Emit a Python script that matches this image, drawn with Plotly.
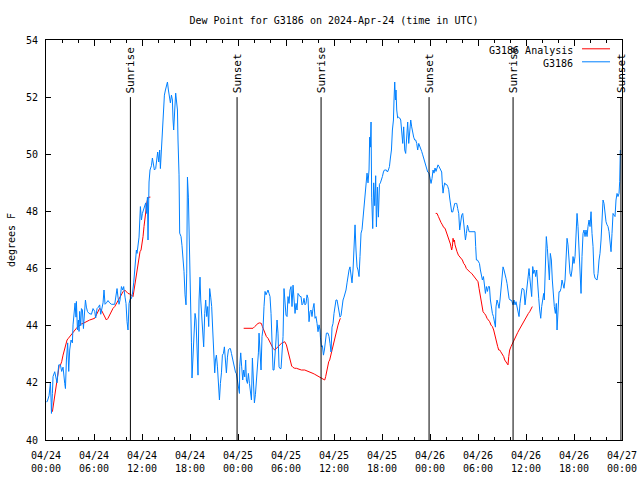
import plotly.graph_objects as go
from datetime import datetime, timedelta

title_text = "Dew Point for G3186 on 2024-Apr-24 (time in UTC)"
y_title = "degrees F"
start = datetime(2024, 4, 24, 0, 0)

# Station observations (hours after 2024-04-24 00:00 UTC, dew point F)
obs_hours = [
    0.05, 0.15, 0.38, 0.55, 0.65, 0.68, 0.8, 0.88, 1.09, 1.21, 1.38, 1.59, 1.8, 1.96, 2.13, 2.34, 2.43, 2.55, 2.71, 2.84,
    2.96, 3.13, 3.3, 3.38, 3.5, 3.63, 3.75, 3.8, 3.93, 4.05, 4.13, 4.21, 4.34, 4.43, 4.55, 4.68, 4.75, 4.93, 5.05, 5.18,
    5.38, 5.68, 5.88, 6.09, 6.21, 6.38, 6.55, 6.71, 6.84, 6.96, 7.13, 7.25, 7.38, 7.55, 7.75, 7.96, 8.18, 8.59, 8.71, 8.88,
    9.0, 9.13, 9.25, 9.43, 9.59, 9.71, 9.88, 10.0, 10.13, 10.25, 10.38, 10.55, 10.68, 10.8, 10.96, 11.09, 11.21, 11.3,
    11.38, 11.5, 11.63, 11.8, 11.93, 12.05, 12.21, 12.34, 12.46, 12.55, 12.68, 12.75, 12.8, 12.88, 13.0, 13.18, 13.3, 13.43,
    13.55, 13.71, 13.84, 13.96, 14.09, 14.21, 14.3, 14.43, 14.55, 14.68, 14.8, 14.93, 15.05, 15.18, 15.3, 15.43, 15.55, 15.68,
    15.8, 15.88, 15.96, 16.09, 16.21, 16.3, 16.43, 16.5, 16.63, 16.71, 16.88, 17.0, 17.13, 17.25, 17.38, 17.5, 17.59, 17.68,
    17.8, 17.88, 18.05, 18.18, 18.25, 18.38, 18.5, 18.63, 18.75, 18.88, 19.0, 19.13, 19.25, 19.34, 19.46, 19.59, 19.71, 19.84,
    19.96, 20.09, 20.21, 20.34, 20.46, 20.59, 20.71, 20.84, 20.96, 21.09, 21.18, 21.3, 21.43, 21.55, 21.68, 21.8, 21.93, 22.05,
    22.18, 22.3, 22.43, 22.55, 22.68, 22.8, 22.93, 23.05, 23.18, 23.3, 23.43, 23.55, 23.68, 23.8, 23.93, 24.05, 24.18,
    24.21, 24.34, 24.46, 24.59, 24.71, 24.84, 24.96, 25.05, 25.18, 25.3, 25.43, 25.55, 25.68, 25.8, 25.93, 26.05, 26.18, 26.3,
    26.43, 26.55, 26.63, 26.75, 26.88, 27.0, 27.13, 27.25, 27.38, 27.5, 27.63, 27.75, 27.88, 28.0, 28.13, 28.25, 28.38, 28.5,
    28.63, 28.75, 28.88, 29.0, 29.13, 29.25, 29.38, 29.5, 29.63, 29.75, 29.88, 30.0, 30.13, 30.25, 30.38, 30.5, 30.63, 30.75,
    30.88, 31.0, 31.13, 31.25, 31.38, 31.5, 31.63, 31.75, 31.88, 32.0, 32.13, 32.25, 32.38, 32.5, 32.63, 32.75, 32.88, 33.0,
    33.13, 33.25, 33.38, 33.5, 33.63, 33.75, 33.88, 34.0, 34.13, 34.25,
    34.3, 34.43, 34.55, 34.68, 34.8, 34.93, 35.05, 35.25, 35.38, 35.5, 35.63, 35.75, 35.88, 36.0, 36.13, 36.25, 36.38, 36.5,
    36.63, 36.75, 36.88, 37.0, 37.13, 37.25, 37.38, 37.5, 37.63, 37.75, 37.88, 38.0, 38.13, 38.25, 38.38, 38.5, 38.63, 38.75,
    38.88, 39.0, 39.13, 39.25, 39.38, 39.5, 39.63, 39.75, 39.88, 40.0, 40.13, 40.25, 40.38, 40.46, 40.55, 40.63, 40.71, 40.84,
    40.96, 41.09, 41.21, 41.3, 41.43, 41.55, 41.68, 41.8, 41.93, 42.05, 42.18, 42.3, 42.55, 42.68, 42.8, 42.93, 43.05, 43.18,
    43.3, 43.43, 43.5, 43.59, 43.68, 43.75, 43.84, 43.96, 44.09, 44.21, 44.34, 44.46, 44.59, 44.71, 44.84, 44.96, 45.09, 45.21,
    45.34, 45.46, 45.59, 45.71, 45.84, 45.96, 46.09, 46.21, 46.34, 46.46, 46.59, 46.71, 46.84, 46.96, 47.09, 47.21, 47.34, 47.46,
    47.59, 47.71, 47.88, 48.0, 48.13, 48.25, 48.38, 48.5, 48.63, 48.75, 48.88, 49.0, 49.13,
    49.46, 49.55, 49.63, 49.71, 49.84, 49.96, 50.09, 50.21, 50.34, 50.46, 50.59, 50.71, 50.84, 50.96, 51.09, 51.21, 51.34, 51.46,
    51.59, 51.71, 51.84, 51.96, 52.09, 52.21, 52.34, 52.43, 52.55, 52.68, 52.8, 52.88, 53.0, 53.38, 53.63, 53.71, 53.8, 53.93,
    54.05, 54.18, 54.3, 54.43, 54.55, 54.68, 54.8, 54.93, 55.05, 55.18, 55.3, 55.43, 55.55, 55.68, 55.8, 55.93, 56.05, 56.18,
    56.25, 56.38, 56.5, 56.63, 56.75, 56.88, 57.0, 57.13, 57.25, 57.38, 57.5, 57.63, 57.75, 57.88, 58.0, 58.13, 58.25, 58.38,
    58.5, 58.63, 58.75, 58.88, 59.0, 59.13, 59.25, 59.38, 59.5, 59.63, 59.75, 59.88, 60.0, 60.13, 60.25, 60.38,
    60.46, 60.59, 60.71, 60.84, 60.96, 61.09, 61.21, 61.34, 61.46, 61.59, 61.71, 61.84, 61.96, 62.09, 62.21, 62.29, 62.42, 62.54,
    62.67, 62.79, 62.92, 63.04, 63.17, 63.29, 63.42, 63.54, 63.67, 63.79, 63.88, 64.0, 64.13, 64.25, 64.38, 64.5, 64.63, 64.75,
    64.88, 65.0, 65.13, 65.25, 65.38, 65.5, 65.63, 65.75, 65.88, 66.0, 66.13, 66.25, 66.38, 66.5, 66.63, 66.75, 66.88, 67.0,
    67.13, 67.25, 67.38, 67.5, 67.63, 67.75, 67.88, 68.0, 68.13, 68.25, 68.38, 68.5, 68.63, 68.88, 69.0, 69.13, 69.25, 69.38,
    69.5, 69.63, 69.75, 69.88, 70.0, 70.13, 70.25, 70.38, 70.5, 70.63, 70.75, 70.88, 71.0, 71.13, 71.25, 71.38, 71.5, 71.63,
    71.71, 71.79,
]
obs_values = [
    41.34, 41.34, 41.55, 42.0, 41.3, 40.93, 41.63, 42.22, 42.39, 42.2, 42.0, 42.63, 42.63, 42.4, 42.55, 41.98, 41.8, 42.8, 43.4, 42.4,
    43.15, 43.5, 43.4, 44.03, 44.44, 44.79, 44.3, 44.85, 43.85, 44.2, 43.8, 44.5, 44.0, 44.6, 44.55, 43.9, 44.2, 44.9, 44.65, 44.5,
    44.43, 44.4, 44.6, 44.5, 44.27, 44.6, 44.65, 44.73, 44.4, 44.55, 44.8, 45.25, 44.75, 44.8, 44.88, 44.8, 44.75, 44.75, 45.05, 45.3,
    45.0, 44.75, 44.9, 45.37, 45.25, 45.37, 45.0, 44.78, 44.14, 43.85, 44.78, 44.95, 44.95, 45.1, 45.5, 46.07, 46.3, 46.65,
    46.53, 46.9, 47.1, 48.17, 47.7, 47.93, 48.05, 48.17, 48.3, 47.93, 48.5, 47.0, 48.5, 49.03, 49.45, 49.6, 49.87, 49.68,
    49.45, 49.5, 49.8, 50.08, 49.73, 50.15, 49.5, 50.22, 50.78, 51.83, 52.07, 52.25, 52.42, 52.53, 52.25, 52.0, 51.8, 52.07,
    51.9, 51.2, 50.85, 51.55, 52.14, 51.9, 51.55, 50.5, 49.28, 47.24, 47.12, 46.8, 46.4, 45.9, 45.08, 44.73, 45.84, 49.2,
    48.5, 47.6, 45.7, 43.4, 42.17, 42.9, 43.73, 44.43, 44.2, 43.15, 42.27, 44.9, 45.7, 44.9, 44.32, 43.6, 43.26, 44.43,
    44.9, 44.32, 44.67, 43.97, 45.3, 45.0, 44.67, 43.85, 43.05, 42.35, 42.8, 42.97, 42.56, 41.86, 41.4, 41.98, 42.35, 42.97,
    43.03, 43.26, 42.9, 42.35, 42.9, 43.15, 43.2, 43.2, 43.03, 42.85, 42.68, 42.56, 42.38, 42.32, 42.03, 41.86, 41.63,
    42.56, 43.05, 42.56, 42.1, 42.45, 42.21, 42.8, 42.1, 41.98, 42.33, 41.98, 41.64, 41.4, 42.87, 42.1, 41.3, 41.6, 42.1,
    42.33, 43.05, 43.74, 42.92, 42.45, 43.62, 43.9, 44.67, 45.2, 45.08, 45.2, 45.25, 45.13, 45.02, 44.43, 43.26, 42.45, 42.45,
    42.92, 43.5, 44.2, 43.74, 42.56, 42.5, 42.5, 43.03, 43.62, 45.3, 44.9, 44.37, 44.32, 45.02, 44.78, 45.25, 45.37, 44.67,
    45.42, 45.02, 44.43, 44.78, 44.55, 45.13, 45.08, 45.02, 45.02, 44.73, 44.78, 44.96, 44.73, 44.78, 45.08, 44.96, 44.14, 44.49,
    44.55, 44.32, 44.61, 44.78, 44.26, 44.32, 44.08, 43.79, 44.03, 43.85,
    43.6, 43.26, 43.3, 42.97, 43.15, 43.38, 43.74, 43.74, 43.62, 43.38, 43.08, 43.95, 44.08, 44.43, 44.78, 44.9, 44.9, 44.73,
    44.5, 44.3, 44.36, 44.66, 44.9, 45.0, 45.14, 45.25, 45.5, 45.78, 45.95, 46.06, 45.72, 45.5, 45.95, 46.9, 47.53, 46.65,
    46.06, 45.95, 45.72, 46.42, 47.24, 47.36, 47.8, 48.3, 48.64, 49.1, 49.34, 49.0, 49.45, 50.6, 50.25, 51.13, 48.5, 47.4,
    49.0, 48.2, 49.25, 47.46, 48.85, 47.8, 48.95, 49.0, 49.1, 49.22, 49.38, 49.45, 49.45, 49.38, 49.45, 49.57, 49.87, 50.15,
    50.85, 51.2, 51.9, 52.53, 51.9, 52.25, 51.55, 51.27, 51.3, 51.27, 51.2, 50.85, 50.38, 50.96, 50.15, 50.03, 50.61, 51.13,
    50.38, 50.96, 51.2, 50.96, 50.73, 50.6, 50.5, 50.5, 50.38, 50.15, 50.38, 50.26, 50.2, 50.1, 49.98, 49.87, 49.75, 49.63,
    49.52, 49.38, 49.34, 49.1, 48.98, 49.15, 49.45, 49.34, 49.52, 49.4, 49.57, 49.63, 49.57,
    49.38, 48.93, 48.64, 48.82, 49.0, 48.94, 48.94, 48.88, 48.76, 48.47, 48.23, 47.98, 47.98, 48.1, 48.28, 48.28, 48.28, 48.1,
    47.93, 47.35, 47.58, 47.87, 47.93, 47.52, 47.23, 47.0, 47.23, 47.52, 47.4, 47.29, 47.29, 47.29, 47.29, 46.77, 46.3, 46.3,
    46.24, 46.18, 45.95, 45.72, 45.6, 45.72, 45.48, 45.13, 45.37, 45.2, 45.37, 45.37, 44.9, 44.61, 44.43, 44.32, 44.14, 43.95,
    44.66, 44.9, 44.78, 44.61, 44.9, 45.25, 45.72, 46.06, 45.95, 45.83, 45.66, 45.48, 45.13, 44.96, 44.9, 44.9, 44.84, 44.73,
    44.9, 44.73, 44.84, 44.67, 44.55, 44.32, 44.78, 45.02, 45.3, 45.3, 45.25, 44.73, 45.02, 45.37, 45.72, 46.0,
    45.72, 45.37, 45.02, 46.07, 45.83, 45.95, 45.72, 45.95, 45.6, 44.96, 44.55, 44.26, 44.67, 45.02, 45.13, 44.9, 46.07, 47.12,
    46.71, 45.95, 45.6, 46.53, 46.3, 45.6, 44.9, 44.67, 44.43, 44.78, 43.85, 44.78, 45.19, 45.19, 45.31, 45.6, 45.37, 45.31,
    45.6, 46.3, 47.06, 46.83, 46.07, 45.83, 45.72, 45.95, 46.42, 46.18, 46.42, 47.0, 47.93, 47.47, 46.53, 45.95, 45.13, 46.42,
    47.23, 47.35, 47.12, 47.35, 47.12, 47.47, 47.7, 47.47, 47.99, 47.23, 46.77, 45.83, 45.66, 45.6, 45.83, 46.3, 46.53, 47.0,
    47.82, 48.4, 48.28, 47.93, 47.64, 47.53, 47.47, 47.29, 47.0, 46.59, 47.23, 47.93, 47.87, 47.82, 48.4, 48.63, 48.52, 48.63,
    49.04, 50.15,
]

# Analysis series, three runs (hours after start, dew point F)
ana_hours_1 = [0.8, 0.96, 1.13, 1.3, 1.46, 1.63, 1.8, 1.96, 2.13, 2.3, 2.46, 2.63, 2.8, 2.96, 3.17, 3.38, 3.59, 3.8, 4.0,
               4.21, 4.42, 4.63, 4.84, 5.05, 5.25, 5.46, 5.67, 5.88, 6.09, 6.3, 6.5, 6.71, 6.92, 7.13, 7.34, 7.55, 7.75,
               7.96, 8.17, 8.38, 8.59, 8.8, 9.0, 9.21, 9.42, 9.63, 9.84, 10.05, 10.25, 10.46, 10.67, 10.88, 11.0, 11.13,
               11.25, 11.38, 11.5, 11.63, 11.75, 11.88, 12.0, 12.13, 12.25, 12.38, 12.5, 12.63, 12.75, 12.88, 13.05]
ana_values_1 = [40.99, 41.28, 41.63, 41.98, 42.22, 42.57, 42.62, 42.74, 42.97, 43.15, 43.32, 43.5, 43.56, 43.62, 43.68,
                43.79, 43.85, 43.91, 43.97, 44.03, 44.06, 44.08, 44.12, 44.16, 44.17, 44.2, 44.22, 44.25, 44.26, 44.38,
                44.49, 44.61, 44.55, 44.43, 44.32, 44.2, 44.26, 44.38, 44.49, 44.61, 44.67, 44.78, 44.9, 45.02, 45.13,
                45.19, 45.25, 45.19, 45.13, 45.11, 45.08, 45.02, 45.25, 45.48, 45.72, 45.95, 46.18, 46.42, 46.59, 46.65,
                46.82, 47.12, 47.47, 47.82, 48.17, 48.35, 48.46, 48.5, 48.5]
ana_hours_2 = [24.71, 25.46, 25.88, 26.09, 26.3, 26.5, 26.71, 26.92, 27.05, 27.21, 27.38, 27.55, 27.75, 27.96, 28.17, 28.38,
               28.59, 28.8, 29.0, 29.21, 29.42, 29.63, 29.84, 30.05, 30.25, 30.46, 30.59, 30.71, 30.88, 31.09, 31.3,
               31.5, 31.71, 31.92, 32.34, 32.55, 32.75, 32.96, 33.17, 33.38, 33.59, 33.8, 34.0, 34.21, 34.42, 34.63,
               34.84, 34.96, 35.09, 35.21, 35.34, 35.46, 35.67, 35.88, 36.09, 36.3, 36.5, 36.71, 36.8]
ana_values_2 = [43.91, 43.91, 43.91, 43.97, 44.03, 44.08, 44.1, 44.08, 43.97, 43.85, 43.73, 43.62, 43.56, 43.44, 43.33,
                43.21, 43.15, 43.21, 43.27, 43.33, 43.38, 43.41, 43.44, 43.33, 43.09, 42.8, 42.68, 42.59, 42.54, 42.51,
                42.51, 42.49, 42.47, 42.45, 42.45, 42.43, 42.4, 42.38, 42.36, 42.33, 42.3, 42.27, 42.22, 42.2, 42.17,
                42.13, 42.1, 42.22, 42.45, 42.63, 42.74, 42.8, 43.06, 43.32, 43.56, 43.79, 44.02, 44.2, 44.26]
ana_hours_3 = [48.71, 48.88, 49.05, 49.21, 49.38, 49.55, 49.71, 49.88, 50.05, 50.21, 50.38, 50.55, 50.71, 50.8, 50.88,
               50.96, 51.05, 51.13, 51.21, 51.38, 51.55, 51.71, 51.88, 52.05, 52.21, 52.38, 52.55, 52.71, 52.88, 53.05,
               53.21, 53.38, 53.55, 53.71, 53.88, 54.0, 54.13, 54.25, 54.38, 54.5, 54.63, 54.8, 54.96, 55.13, 55.3,
               55.46, 55.63, 55.8, 55.96, 56.09, 56.21, 56.34, 56.46, 56.59, 56.71, 56.84, 56.96, 57.09, 57.21, 57.34,
               57.46, 57.59, 57.75, 57.84, 57.96, 58.13, 58.3, 58.46, 58.63, 58.8, 58.96, 59.13, 59.3, 59.46, 59.63,
               59.8, 59.96, 60.13, 60.3, 60.46, 60.79]
ana_values_3 = [47.93, 47.93, 47.82, 47.7, 47.61, 47.53, 47.44, 47.41, 47.29, 47.12, 47.0, 46.86, 46.65, 46.77, 47.06,
                46.94, 47.0, 46.83, 46.74, 46.59, 46.47, 46.42, 46.36, 46.3, 46.18, 46.12, 46.0, 45.95, 45.89, 45.86,
                45.83, 45.77, 45.72, 45.66, 45.62, 45.54, 45.31, 45.08, 44.84, 44.61, 44.49, 44.43, 44.37, 44.26, 44.2,
                44.14, 44.02, 43.97, 43.85, 43.68, 43.5, 43.38, 43.27, 43.15, 43.15, 43.09, 43.03, 42.98, 42.92, 42.8,
                42.74, 42.68, 42.63, 42.92, 43.15, 43.27, 43.38, 43.5, 43.56, 43.68, 43.76, 43.85, 43.94, 44.02, 44.1,
                44.2, 44.26, 44.34, 44.43, 44.49, 44.67]

# Sunrise / sunset markers
event_times = ["2024-04-24 10:33", "2024-04-24 23:53", "2024-04-25 10:23",
               "2024-04-25 23:53", "2024-04-26 10:23", "2024-04-26 23:52"]
event_labels = ["Sunrise", "Sunset", "Sunrise", "Sunset", "Sunrise", "Sunset"]
event_top = 52

y_ticks = [40, 42, 44, 46, 48, 50, 52, 54]
x_tick_hours = [0, 6, 12, 18, 24, 30, 36, 42, 48, 54, 60, 66, 72]

series_names = ["G3186 Analysis", "G3186"]
series_colors = ["#ff0000", "#0080ff"]

FONT = "DejaVu Sans Mono"


def to_time(hours):
    return [start + timedelta(hours=h) for h in hours]


ana_x = to_time(ana_hours_1) + [None] + to_time(ana_hours_2) + [None] + to_time(ana_hours_3)
ana_y = ana_values_1 + [None] + ana_values_2 + [None] + ana_values_3

fig = go.Figure()
fig.add_trace(go.Scatter(x=ana_x, y=ana_y, mode="lines", name=series_names[0],
                         line=dict(color=series_colors[0], width=1), connectgaps=False))
fig.add_trace(go.Scatter(x=to_time(obs_hours), y=obs_values, mode="lines", name=series_names[1],
                         line=dict(color=series_colors[1], width=1)))

for t, lab in zip(event_times, event_labels):
    fig.add_shape(type="line", xref="x", yref="y", x0=t, x1=t, y0=y_ticks[0], y1=event_top,
                  line=dict(color="black", width=1))
    fig.add_annotation(x=t, y=event_top, xref="x", yref="y", text=lab, textangle=-90,
                       xanchor="center", yanchor="bottom", showarrow=False,
                       font=dict(family=FONT, size=11, color="black"), borderpad=0, yshift=3)

# legend drawn gnuplot-style: text then sample line on the right
legend_rows = [0.975, 0.9425]
for name, color, yy in zip(series_names, series_colors, legend_rows):
    fig.add_annotation(xref="paper", yref="paper", x=0.9184, y=yy, text=name, xanchor="right",
                       yanchor="middle", showarrow=False, font=dict(family=FONT, size=10, color="black"))
    fig.add_shape(type="line", xref="paper", yref="paper", x0=0.9306, x1=0.9792, y0=yy + 0.003, y1=yy + 0.003,
                  line=dict(color=color, width=1))

tick_times = to_time(x_tick_hours)
tick_text = [t.strftime("%m/%d") + "<br>" + t.strftime("%H:%M") for t in tick_times]

fig.update_layout(
    width=640, height=480,
    margin=dict(l=46, r=18, t=40, b=40),
    paper_bgcolor="white", plot_bgcolor="white",
    showlegend=False,
    font=dict(family=FONT, size=10, color="black"),
    title=dict(text=title_text, x=0.5, xref="paper", xanchor="center", y=1 - 20 / 480, yanchor="middle",
               font=dict(family=FONT, size=10, color="black")),
)
fig.update_xaxes(
    type="date", range=[tick_times[0], tick_times[-1]], automargin=False,
    tickmode="array", tickvals=tick_times, ticktext=tick_text,
    ticks="inside", ticklen=6, tickcolor="black", tickwidth=1,
    showline=True, linecolor="black", linewidth=1, mirror="allticks",
    showgrid=False, zeroline=False, ticklabelstandoff=6,
    minor=dict(tickmode="linear", tick0=start, dtick=2 * 3600 * 1000, ticks="inside", ticklen=3,
               tickcolor="black", showgrid=False),
    tickfont=dict(family=FONT, size=10, color="black"),
)
fig.update_yaxes(
    range=[y_ticks[0], y_ticks[-1]], tickmode="array", tickvals=y_ticks, automargin=False,
    ticks="inside", ticklen=5, tickcolor="black", tickwidth=1,
    showline=True, linecolor="black", linewidth=1, mirror="allticks",
    showgrid=False, zeroline=False, ticklabelstandoff=5,
    title=dict(text=y_title, standoff=8, font=dict(family=FONT, size=10, color="black")),
    tickfont=dict(family=FONT, size=10, color="black"),
)

fig.write_html("out.html", config={"displayModeBar": False},
               post_script="document.body.style.margin='0';document.body.style.padding='0';")
